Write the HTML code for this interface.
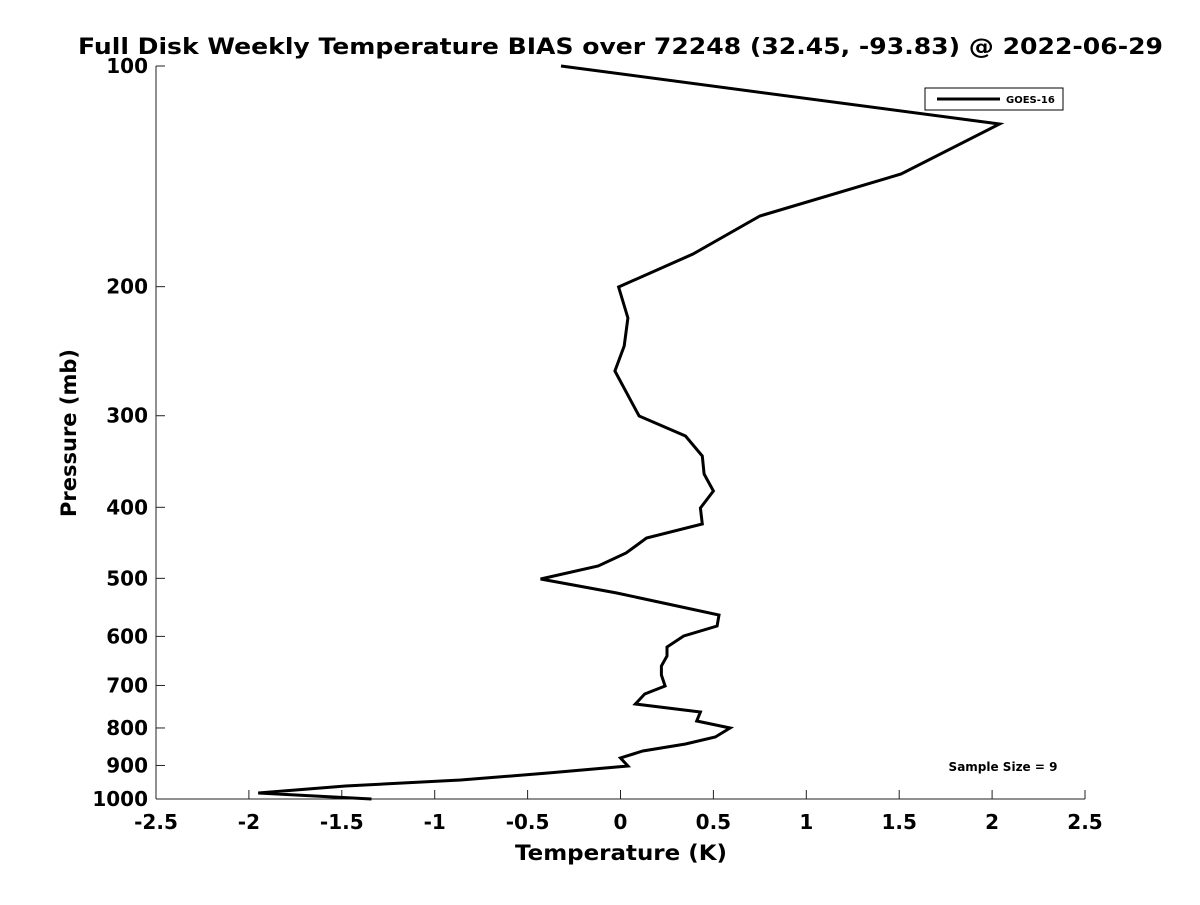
<!DOCTYPE html>
<html><head><meta charset="utf-8"><style>
body{margin:0;background:#fff;}
svg text{font-family:"DejaVu Sans","Liberation Sans",sans-serif;font-weight:bold;fill:#000;}
</style></head><body>
<svg id="chart" width="1200" height="900" xmlns="http://www.w3.org/2000/svg">
<rect width="1200" height="900" fill="#fff"/>
<text x="78" y="54" font-size="22" textLength="1085" lengthAdjust="spacingAndGlyphs">Full Disk Weekly Temperature BIAS over 72248 (32.45, -93.83) @ 2022-06-29</text>
<g id="axes"></g>
<path id="line" fill="none" stroke="#000" stroke-width="3" stroke-linejoin="miter"/>
<text x="515" y="860" font-size="21" textLength="212" lengthAdjust="spacingAndGlyphs" fill="#222">Temperature (K)</text>
<text transform="translate(76,433) rotate(-90)" font-size="21" text-anchor="middle" fill="#222">Pressure (mb)</text>
<g>
<rect x="925" y="88" width="138" height="22" fill="#fff" stroke="#000" stroke-width="1"/>
<line x1="937" y1="99" x2="1000" y2="99" stroke="#000" stroke-width="3"/>
<text x="1006" y="103" font-size="10">GOES-16</text>
</g>
<text x="1003" y="771" font-size="12" text-anchor="middle">Sample Size = 9</text>
</svg>
<script>
const temps=[-0.32,2.04,1.51,0.75,0.39,-0.01,0.04,0.02,-0.03,0.10,0.35,0.44,0.45,0.50,0.43,0.44,0.14,0.03,-0.12,-0.43,-0.02,0.28,0.53,0.52,0.34,0.25,0.25,0.22,0.22,0.24,0.13,0.08,0.43,0.41,0.59,0.51,0.35,0.12,0.00,0.04,-0.39,-0.86,-1.48,-1.95,-1.34];
const pressures=[100,120,140,160,180,200,220,240,260,300,320,340,360,380,400,420,440,460,480,500,525,550,575,600,625,650,675,700,725,750,775,800,825,850,875,900,925,950,975,1000,1025,1050,1075,1100,1120];
const xTicks=[-2.5,-2,-1.5,-1,-0.5,0,0.5,1,1.5,2,2.5];
const xTickLabels=["-2.5","-2","-1.5","-1","-0.5","0","0.5","1","1.5","2","2.5"];
const yTicks=[100,200,300,400,500,600,700,800,900,1000];
const yTickLabels=["100","200","300","400","500","600","700","800","900","1000"];
const yPix=[66,124,174,216,254,287,318,346,371,416,436,456,474,491,508,524,538,553,566,579,593,605,615,626,636,647,656,666,675,686,694,704,712,721,728,737,744,751,758,766,773,780,786,793,799];
const pvals=yPix.map(y=>100*Math.pow(10,(y-66)/733));
const L=156,R=1085,T=66,B=799;
const xs=v=>L+(v+2.5)/5*(R-L);
const ys=p=>T+Math.log10(p/100)*(B-T);
const NS="http://www.w3.org/2000/svg";
const ax=document.getElementById('axes');
function mk(tag,attrs){const e=document.createElementNS(NS,tag);for(const k in attrs)e.setAttribute(k,attrs[k]);ax.appendChild(e);return e;}
let e=mk('line',{x1:L,y1:T,x2:L,y2:B,stroke:'#222','stroke-width':1});


e=mk('line',{x1:L,y1:B,x2:R,y2:B,stroke:'#222','stroke-width':1});


xTicks.forEach((t,i)=>{
 const x=xs(t);
 let l=mk('line',{x1:x,y1:B,x2:x,y2:B-9,stroke:'#222','stroke-width':1});
 
 
 let tx=mk('text',{x:x,y:B+30,'font-size':20,'text-anchor':'middle',fill:'#222'});
 tx.textContent=xTickLabels[i];
 
 
});
yTicks.forEach((t,i)=>{
 const y=ys(t);
 let l=mk('line',{x1:L,y1:y,x2:L+9,y2:y,stroke:'#222','stroke-width':1});
 
 
 let tx=mk('text',{x:L-8,y:y+7,'font-size':20,'text-anchor':'end',fill:'#222'});
 tx.textContent=yTickLabels[i];
 
 
});
const d=temps.map((t,i)=>(i?'L':'M')+xs(t).toFixed(1)+','+ys(pvals[i]).toFixed(1)).join(' ');
document.getElementById('line').setAttribute('d',d);
</script>
</body></html>
